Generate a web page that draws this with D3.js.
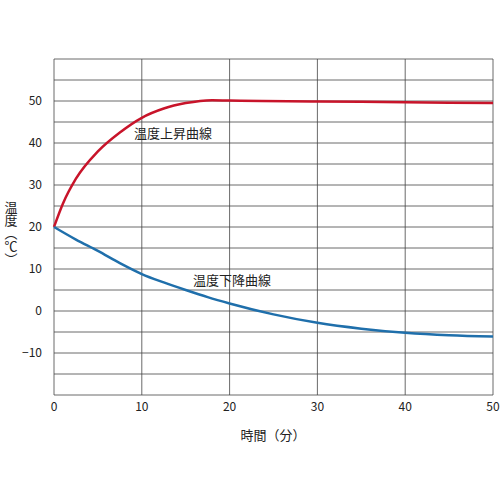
<!DOCTYPE html>
<html><head><meta charset="utf-8">
<script src="https://cdn.jsdelivr.net/npm/d3@7"></script>
<style>body{margin:0;background:#fff;font-family:"Noto Sans CJK JP","Noto Sans",sans-serif}</style>
</head><body><svg id="c" width="500" height="500"></svg>
<script>
// データ
const riseT = [0, 1, 2.5, 5, 7.5, 10, 12.5, 15, 18, 20, 30, 40, 50];
const riseV = [20, 25.5, 31.5, 38, 42.5, 46, 48.2, 49.5, 50.2, 50.1, 49.9, 49.7, 49.5];
const fallT = [0, 2.5, 5, 7.5, 10, 12.5, 15, 17.5, 20, 25, 30, 35, 40, 45, 50];
const fallV = [20, 17, 14.3, 11.4, 8.8, 6.8, 5, 3.3, 1.8, -0.8, -2.8, -4.2, -5.2, -5.8, -6.1];
const xTicks = [0, 10, 20, 30, 40, 50];
const yTicks = [-10, 0, 10, 20, 30, 40, 50];

const svg = d3.select("#c");
const x = d3.scaleLinear().domain([0, 50]).range([54, 493]);
const y = d3.scaleLinear().domain([-20, 60]).range([395, 59]);

// グリッド
svg.append("g").selectAll("line").data(d3.range(-20, 61, 5)).join("line")
  .attr("x1", x(0)).attr("x2", x(50)).attr("y1", d => y(d)).attr("y2", d => y(d))
  .attr("stroke", "#444").attr("stroke-width", 0.8);
svg.append("g").selectAll("line").data(xTicks).join("line")
  .attr("x1", d => x(d)).attr("x2", d => x(d)).attr("y1", y(-20)).attr("y2", y(60))
  .attr("stroke", "#444").attr("stroke-width", 0.8);

// 目盛ラベル
svg.append("g").selectAll("text").data(xTicks).join("text")
  .attr("x", d => x(d)).attr("y", 411).attr("text-anchor", "middle")
  .attr("font-size", 12).attr("fill", "#222").text(d => d);
svg.append("g").selectAll("text").data(yTicks).join("text")
  .attr("x", 42).attr("y", d => y(d) + 4).attr("text-anchor", "end")
  .attr("font-size", 12).attr("fill", "#222").text(d => d < 0 ? "\u2212" + (-d) : d);

// 曲線
const line = d3.line().curve(d3.curveMonotoneX);
svg.append("path").attr("d", line(riseT.map((t, i) => [x(t), y(riseV[i])])))
  .attr("fill", "none").attr("stroke", "#c8142a").attr("stroke-width", 2.5);
svg.append("path").attr("d", line(fallT.map((t, i) => [x(t), y(fallV[i])])))
  .attr("fill", "none").attr("stroke", "#1f6fab").attr("stroke-width", 2.5);

// 注記
svg.append("text").attr("x", 134).attr("y", 138).attr("font-size", 13).attr("fill", "#222").text("温度上昇曲線");
svg.append("text").attr("x", 193).attr("y", 285).attr("font-size", 13).attr("fill", "#222").text("温度下降曲線");
svg.append("text").attr("x", 273).attr("y", 440).attr("text-anchor", "middle").attr("font-size", 13).attr("fill", "#222").text("時間（分）");
svg.append("text").attr("x", 11).attr("y", 201)
  .style("writing-mode", "vertical-rl")
  .attr("font-size", 13).attr("fill", "#222").text("温度（℃）");
</script></body></html>
